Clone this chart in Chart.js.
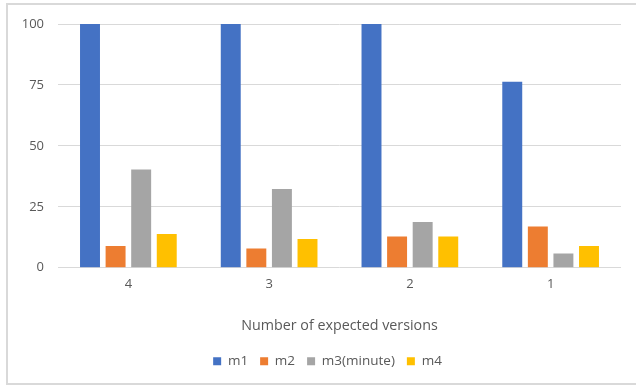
<!DOCTYPE html>
<html>
<head>
<meta charset="utf-8">
<script src="https://cdn.jsdelivr.net/npm/chart.js@4/dist/chart.umd.min.js"></script>
<style>
  html, body { margin: 0; padding: 0; background: #ffffff; }
  #wrap { position: relative; width: 636px; height: 386px; }
</style>
</head>
<body>
<div id="wrap"><canvas id="chart" width="636" height="386"></canvas></div>
<script>
// Categories: number of expected versions
const categories = ['4', '3', '2', '1'];

// Series values
const m1 = [100, 100, 100, 76.3];
const m2 = [8.9, 7.9, 12.8, 16.9];
const m3 = [40.3, 32.3, 18.8, 5.8];
const m4 = [13.8, 11.8, 12.8, 8.9];

const seriesNames = ['m1', 'm2', 'm3(minute)', 'm4'];
const yTicks = [0, 25, 50, 75, 100];

const TEXT = '#595959';
const GRID = '#d9d9d9';
const FONT = "'Open Sans', 'Noto Sans', sans-serif";

// light frame around the whole chart
const framePlugin = {
  id: 'frame',
  beforeDraw(chart) {
    const ctx = chart.ctx;
    ctx.save();
    ctx.fillStyle = '#ffffff';
    ctx.fillRect(0, 0, chart.width, chart.height);
    ctx.strokeStyle = '#d9d9d9';
    ctx.lineWidth = 2;
    ctx.strokeRect(7, 4, chart.width + 10, chart.height - 6);
    ctx.restore();
  }
};

// nudge the legend row a little to the right of the canvas centre
const legendShift = {
  id: 'legendShift',
  afterLayout(chart) {
    const lg = chart.legend;
    if (lg) { lg.left += 17; lg.right += 17; }
  }
};

const colors = ['#4472C4', '#ED7D31', '#A5A5A5', '#FFC000'];
const values = [m1, m2, m3, m4];

new Chart(document.getElementById('chart'), {
  type: 'bar',
  data: {
    labels: categories,
    datasets: seriesNames.map((name, i) => ({
      label: name,
      data: values[i],
      backgroundColor: colors[i],
      borderWidth: 0,
      categoryPercentage: 0.727,
      barPercentage: 0.78
    }))
  },
  options: {
    responsive: false,
    animation: false,
    devicePixelRatio: 1,
    layout: { padding: { top: 24, right: 15, bottom: 8, left: 0 } },
    plugins: {
      tooltip: { enabled: false },
      legend: {
        position: 'bottom',
        labels: {
          color: TEXT,
          font: { family: FONT, size: 13.5 },
          boxWidth: 8,
          boxHeight: 8,
          padding: 12
        }
      }
    },
    scales: {
      x: {
        grid: { display: false, drawTicks: false },
        border: { display: false },
        ticks: { color: TEXT, font: { family: FONT, size: 13 }, padding: 9 },
        title: {
          display: true,
          text: 'Number of expected versions',
          color: TEXT,
          font: { family: FONT, size: 14.3 },
          padding: { top: 16, bottom: 8 }
        }
      },
      y: {
        min: 0,
        max: 100,
        afterFit(scale) { scale.width = 58; },
        afterBuildTicks(scale) { scale.ticks = yTicks.map(v => ({ value: v })); },
        grid: { color: GRID, lineWidth: 1, drawTicks: false },
        border: { display: false },
        ticks: { color: TEXT, font: { family: FONT, size: 13 }, padding: 14 }
      }
    }
  },
  plugins: [framePlugin, legendShift]
});
</script>
</body>
</html>
